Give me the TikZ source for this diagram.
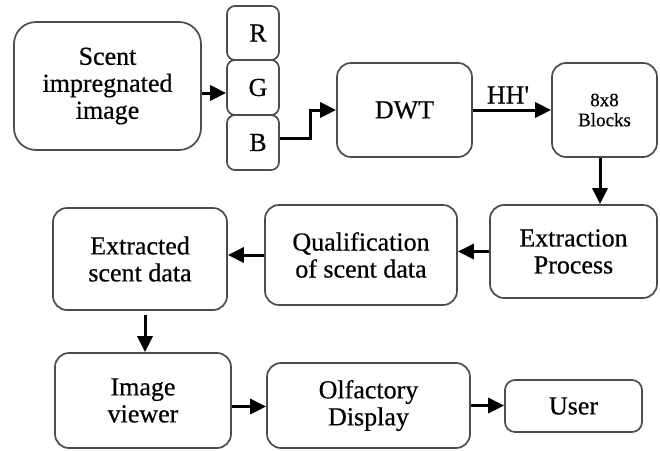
\documentclass[tikz,border=0pt]{standalone}
\usepackage{fontspec}
\setmainfont[FakeBold=0.5]{Liberation Serif}
\usetikzlibrary{arrows.meta}
\tikzset{
  box/.style={draw=black!70, line width=1.7pt, rounded corners=14pt, align=center,
    inner sep=0pt, font=\fontsize{26}{27}\selectfont},
  arr/.style={draw=black, line width=3pt, -{Triangle[length=16pt,width=15pt]}},
}
\begin{document}
\begin{tikzpicture}[x=1pt,y=-1pt]
\useasboundingbox[fill=white] (0,0) rectangle (660,450);

% input image and colour channels
\node[box, rounded corners=22pt, minimum width=187pt, minimum height=128pt] (scent) at (107.5,86) {Scent\\impregnated\\image};
\node[box, rounded corners=8pt, minimum width=52pt, minimum height=54pt] (R) at (253,33) {\hspace*{10pt}R};
\node[box, rounded corners=8pt, minimum width=52pt, minimum height=55pt] (G) at (253,87.5) {\hspace*{10pt}G};
\node[box, rounded corners=8pt, minimum width=52pt, minimum height=55pt] (B) at (253,142.5) {\hspace*{10pt}B};

% transform stage
\node[box, minimum width=135pt, minimum height=94pt] (dwt) at (404.5,110) {DWT};
\node[box, minimum width=105pt, minimum height=94pt, font=\fontsize{19}{20}\selectfont] (blocks) at (604.5,110) {8x8\\Blocks};

% extraction stage
\node[box, minimum width=167pt, minimum height=93pt] (extr) at (573.5,251.5) {Extraction\\Process};
\node[box, minimum width=192pt, minimum height=100pt] (qual) at (361,255) {Qualification\\of scent data};
\node[box, minimum width=174pt, minimum height=102pt] (extd) at (140,259) {Extracted\\scent data};

% output stage
\node[box, minimum width=176pt, minimum height=95pt] (imgv) at (143,400.5) {Image\\viewer};
\node[box, minimum width=203pt, minimum height=85pt] (olf) at (368.5,405.5) {Olfactory\\Display};
\node[box, rounded corners=10pt, minimum width=137pt, minimum height=52pt] (user) at (573.5,406) {User};

% connectors
\draw[arr] ([yshift=-7pt]scent.east) -- ([yshift=-7pt]scent.east -| G.west);
\draw[arr] ([yshift=4pt]B.east) -- ++(31,0) |- (dwt.west);
\draw[arr] (dwt.east) -- node[above=5pt, font=\fontsize{26}{27}\selectfont, inner sep=0pt, xshift=-4pt] (hh) {HH\textquotesingle} (blocks.west);
\coordinate (bdown) at ([xshift=-4.5pt]blocks.south);
\draw[arr] (bdown) -- (bdown |- extr.north);
\draw[arr] (extr.west) -- (extr.west -| qual.east);
\draw[arr] (qual.west) -- (qual.west -| extd.east);
\coordinate (edown) at ([xshift=5pt,yshift=-4pt]extd.south);
\draw[arr] (edown) -- (edown |- imgv.north);
\draw[arr] ([yshift=-6pt]imgv.east) -- ([yshift=-6pt]imgv.east -| olf.west);
\draw[arr] (olf.east) -- (olf.east -| user.west);
\end{tikzpicture}
\end{document}
